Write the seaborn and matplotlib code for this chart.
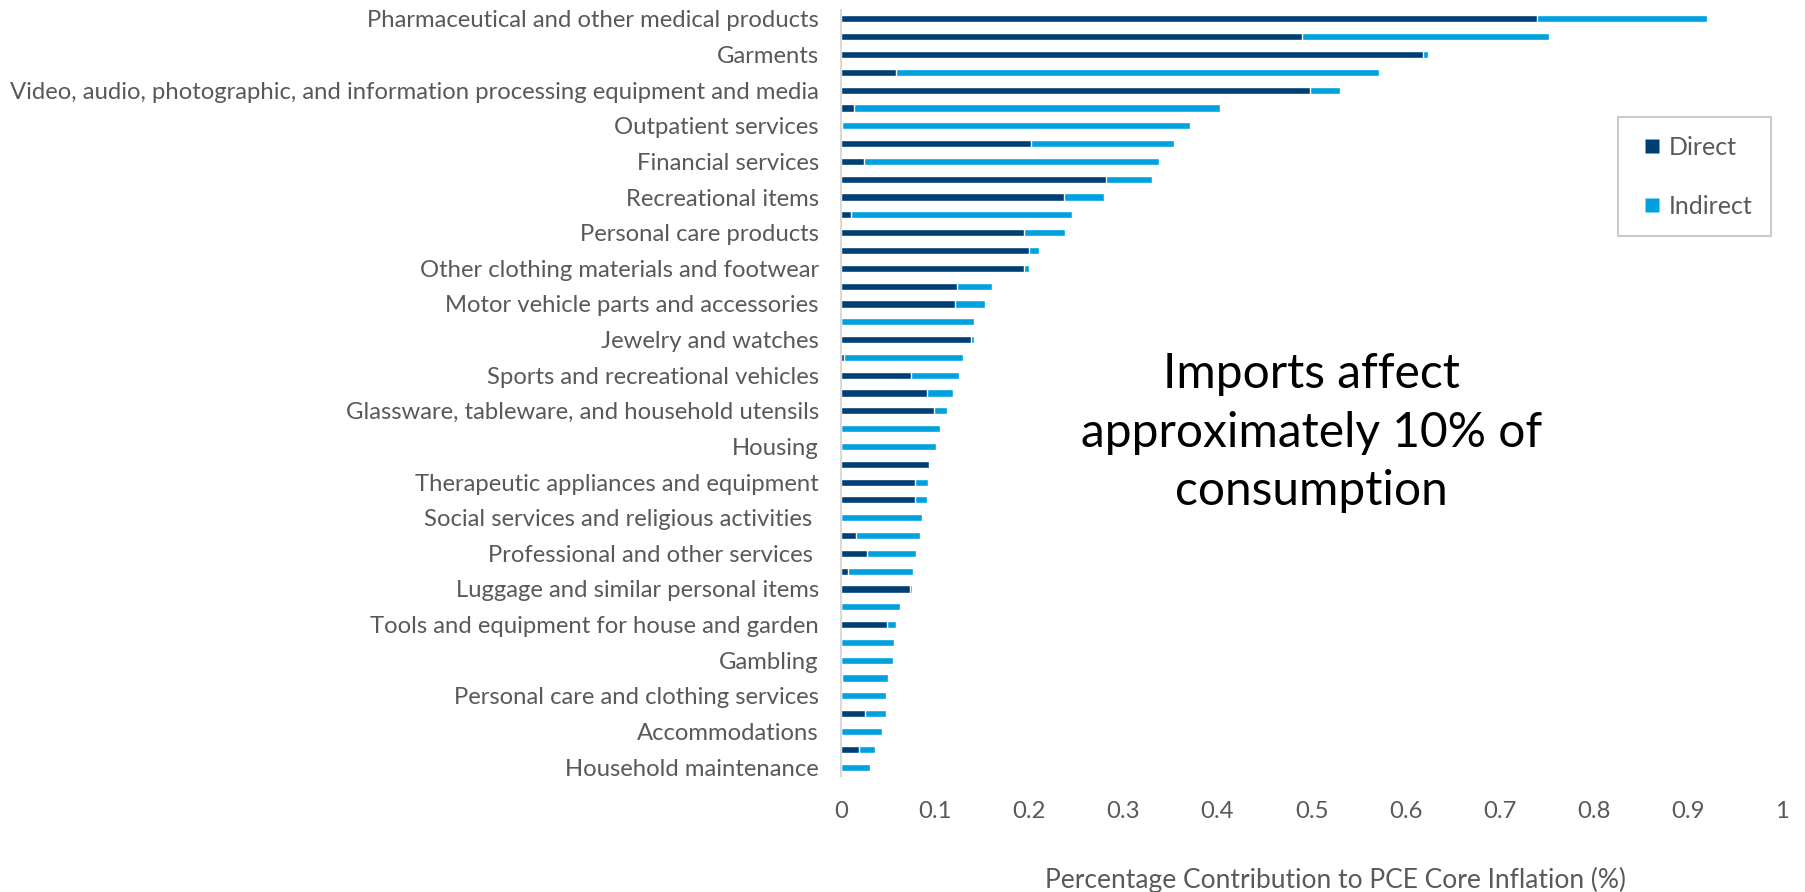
import matplotlib
matplotlib.use("Agg")
import matplotlib.pyplot as plt
from matplotlib.lines import Line2D
import numpy as np
import pandas as pd
import seaborn as sns

# Every other category carries a label on the axis
labels = [
    "Pharmaceutical and other medical products",
    "Garments",
    "Video, audio, photographic, and information processing equipment and media",
    "Outpatient services",
    "Financial services",
    "Recreational items",
    "Personal care products",
    "Other clothing materials and footwear",
    "Motor vehicle parts and accessories",
    "Jewelry and watches",
    "Sports and recreational vehicles",
    "Glassware, tableware, and household utensils",
    "Housing",
    "Therapeutic appliances and equipment",
    "Social services and religious activities ",
    "Professional and other services ",
    "Luggage and similar personal items",
    "Tools and equipment for house and garden",
    "Gambling",
    "Personal care and clothing services",
    "Accommodations",
    "Household maintenance",
]

direct = [
    0.740, 0.490, 0.618, 0.058, 0.498, 0.014, 0.001, 0.202, 0.024, 0.282,
    0.237, 0.011, 0.195, 0.200, 0.194, 0.123, 0.121, 0.000, 0.138, 0.003,
    0.074, 0.091, 0.099, 0.000, 0.000, 0.094, 0.079, 0.079, 0.000, 0.016,
    0.028, 0.007, 0.073, 0.000, 0.049, 0.000, 0.000, 0.001, 0.000, 0.026,
    0.000, 0.019, 0.000,
]
indirect = [
    0.180, 0.262, 0.006, 0.514, 0.032, 0.389, 0.370, 0.152, 0.314, 0.049,
    0.043, 0.234, 0.043, 0.010, 0.006, 0.038, 0.032, 0.141, 0.003, 0.127,
    0.051, 0.028, 0.014, 0.105, 0.101, 0.000, 0.013, 0.012, 0.086, 0.068,
    0.052, 0.070, 0.002, 0.063, 0.009, 0.056, 0.055, 0.049, 0.048, 0.022,
    0.044, 0.017, 0.031,
]

DARK = "#003F74"
LIGHT = "#00A1DF"
GREY = "#595959"
FS = 17.2

df = pd.DataFrame({
    "item": [f"c{i:02d}" for i in range(len(direct))],
    "direct": direct,
    "indirect": indirect,
})
df["total"] = df["direct"] + df["indirect"]

sns.set_theme(style="white")
plt.rcParams["font.family"] = ["Lato", "DejaVu Sans"]

fig = plt.figure(figsize=(18.05, 8.92), dpi=100)
ax = fig.add_axes([0.4659, 0.130, 0.5214, 0.8588])

# Stacked bars: full total in light blue, direct share on top in dark blue
sns.barplot(data=df, x="total", y="item", orient="h", color=LIGHT,
            width=0.4, saturation=1, ax=ax)
sns.barplot(data=df, x="direct", y="item", orient="h", color=DARK,
            width=0.4, saturation=1, ax=ax)

ax.set_xlim(0, 1)
ax.set_ylim(len(direct) - 0.5, -0.5)
ax.set_xticks(np.arange(0, 1.01, 0.1))
ax.set_xticklabels(["0"] + [f"{v:.1f}" for v in np.arange(0.1, 0.95, 0.1)] + ["1"])
ax.set_yticks(range(0, len(direct), 2))
ax.set_yticklabels(labels)

ax.tick_params(axis="y", length=0, pad=16, labelsize=FS, labelcolor=GREY)
ax.tick_params(axis="x", length=0, pad=18, labelsize=FS, labelcolor=GREY)

for side in ["top", "right", "bottom"]:
    ax.spines[side].set_visible(False)
ax.spines["left"].set_color("#D9D9D9")
ax.spines["left"].set_linewidth(1.5)

ax.set_ylabel("")
ax.set_xlabel("Percentage Contribution to PCE Core Inflation (%)",
              fontsize=19, color=GREY)
ax.xaxis.set_label_coords(0.525, -0.118)

ax.text(0.5, 0.448, "Imports affect\napproximately 10% of\nconsumption",
        transform=ax.transAxes, ha="center", va="center", fontsize=34.5,
        color="black", linespacing=1.4)

handles = [
    Line2D([], [], marker="s", linestyle="none", markersize=9.4,
           markerfacecolor=DARK, markeredgecolor="none", label="Direct"),
    Line2D([], [], marker="s", linestyle="none", markersize=9.4,
           markerfacecolor=LIGHT, markeredgecolor="none", label="Indirect"),
]
leg = ax.legend(handles=handles, loc="upper left", bbox_to_anchor=(0.826, 0.860),
                frameon=True, fontsize=18, handlelength=1.2,
                handletextpad=0.06, labelspacing=1.44, borderpad=0.74,
                borderaxespad=0, fancybox=False)
leg.get_frame().set_edgecolor("#BFBFBF")
leg.get_frame().set_linewidth(1.5)
for t in leg.get_texts():
    t.set_color(GREY)

fig.savefig("out.png", dpi=100, facecolor="white")
